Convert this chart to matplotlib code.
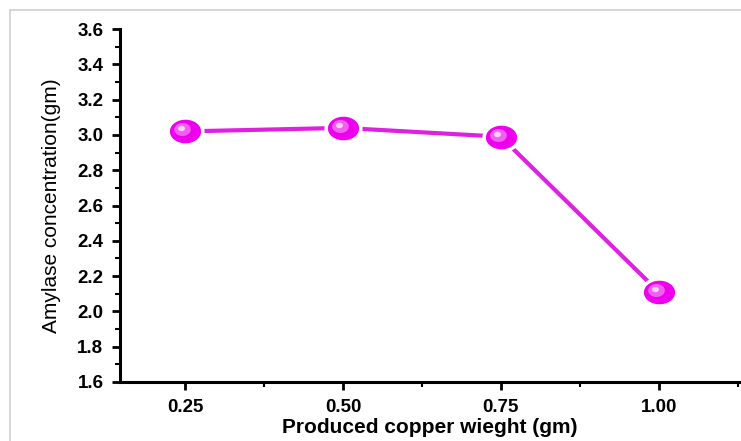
import numpy as np
import matplotlib
matplotlib.use('Agg')
import matplotlib.pyplot as plt
from matplotlib.patches import Rectangle
from matplotlib.path import Path
from matplotlib.ticker import MultipleLocator
from matplotlib.transforms import ScaledTranslation

# Data
copper = [0.25, 0.50, 0.75, 1.00]
amylase = [3.02, 3.04, 2.99, 2.11]
xtick_labels = ['0.25', '0.50', '0.75', '1.00']

plt.rcParams['font.family'] = ['Liberation Sans', 'DejaVu Sans']

fig = plt.figure(figsize=(7.41, 4.41), dpi=100)
fig.patches.append(Rectangle((10 / 741, -0.1), 1.0, 1.1 - 10 / 441, transform=fig.transFigure,
                             fill=False, edgecolor='#d0d0d0', linewidth=1.2))
ax = fig.add_axes([0.162, 0.134, 0.836, 0.800])

# slightly flattened ball marker
t = np.linspace(0, 2 * np.pi, 60)
ell = Path(np.column_stack([np.cos(t), 0.78 * np.sin(t)]))

ax.plot(copper, amylase, '-', color='#e020e0', linewidth=3, zorder=2)
ax.plot(copper, amylase, linestyle='none', marker=ell, markersize=25,
        markerfacecolor='#ee00ee', markeredgecolor='white', markeredgewidth=2.5, zorder=3)
# highlight on the balls
ax.plot(copper, amylase, linestyle='none', marker=ell, markersize=12,
        markerfacecolor='#f260f2', markeredgewidth=0, zorder=4,
        transform=ax.transData + ScaledTranslation(-3 / 100, 2 / 100, fig.dpi_scale_trans))
ax.plot(copper, amylase, linestyle='none', marker=ell, markersize=5,
        markerfacecolor='#fbd0fb', markeredgewidth=0, zorder=5,
        transform=ax.transData + ScaledTranslation(-4 / 100, 3 / 100, fig.dpi_scale_trans))

ax.set_xlim(0.147, 1.128)
ax.set_ylim(1.6, 3.6)
ax.set_xticks(copper)
ax.set_xticklabels(xtick_labels)
ax.xaxis.set_minor_locator(MultipleLocator(0.125))
ax.yaxis.set_major_locator(MultipleLocator(0.2))
ax.yaxis.set_minor_locator(MultipleLocator(0.1))

for s in ['top', 'right']:
    ax.spines[s].set_visible(False)
for s in ['left', 'bottom']:
    ax.spines[s].set_linewidth(2.2)

ax.tick_params(which='major', direction='out', length=6, width=2, labelsize=13.5, pad=6)
ax.tick_params(which='minor', direction='out', length=3.5, width=1.5)
for lab in ax.get_xticklabels() + ax.get_yticklabels():
    lab.set_fontweight('bold')

ax.set_xlabel('Produced copper wieght (gm)', fontsize=15, fontweight='bold', labelpad=2)
ax.set_ylabel('Amylase concentration(gm)', fontsize=15, labelpad=12)

fig.savefig('out.png', dpi=100)
